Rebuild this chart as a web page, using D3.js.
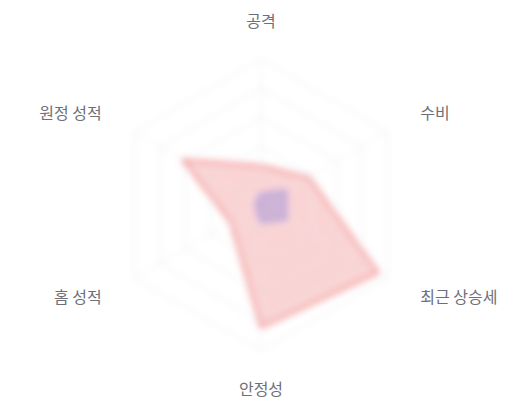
<!DOCTYPE html>
<html>
<head>
<meta charset="utf-8">
<script src="https://cdn.jsdelivr.net/npm/d3@7"></script>
<style>
  html, body { margin: 0; padding: 0; background: #fff; }
  #chart { width: 520px; height: 400px; }
</style>
</head>
<body>
<div id="chart"></div>
<script>
// axis names, clockwise from the top
const indicators = ["공격", "수비", "최근 상승세", "안정성", "홈 성적", "원정 성적"];
const maxValue = 100;

// series values (0-100)
const teamA = [27, 38, 93, 84, 24, 62];
const teamB = [8, 20, 20, 12, 4, 4];

const seriesColors = ["#ee6666", "#8c84dc"];

const width = 520, height = 400;
const center = {x: 261, y: 205};
const radius = 146;
const splitNumber = 5;
const nameGap = 38;

const svg = d3.select("#chart").append("svg")
    .attr("width", width)
    .attr("height", height);

// soft blur on the plot, the axis names stay sharp
const defs = svg.append("defs");
defs.append("filter")
    .attr("id", "soft")
    .attr("x", "-20%").attr("y", "-20%")
    .attr("width", "140%").attr("height", "140%")
    .append("feGaussianBlur")
    .attr("stdDeviation", 3.5);

const rScale = d3.scaleLinear().domain([0, maxValue]).range([0, radius]);
const angle = d3.scalePoint().domain(indicators.concat("__end")).range([0, 2 * Math.PI]);

const plot = svg.append("g")
    .attr("transform", `translate(${center.x},${center.y})`)
    .attr("filter", "url(#soft)");

// split lines
const levels = d3.range(splitNumber, 0, -1).map(i => maxValue * i / splitNumber);
const ringLine = d3.lineRadial()
    .angle(d => angle(d.name))
    .radius(d => rScale(d.value))
    .curve(d3.curveLinearClosed);

plot.selectAll(".ring")
    .data(levels)
    .join("path")
    .attr("class", "ring")
    .attr("d", lv => ringLine(indicators.map(name => ({name, value: lv}))))
    .attr("fill", "none")
    .attr("stroke", "#e6e8ee")
    .attr("stroke-width", 1);

// axis lines
plot.selectAll(".axisLine")
    .data(indicators)
    .join("line")
    .attr("class", "axisLine")
    .attr("x1", 0).attr("y1", 0)
    .attr("x2", d => rScale(maxValue) * Math.sin(angle(d)))
    .attr("y2", d => -rScale(maxValue) * Math.cos(angle(d)))
    .attr("stroke", "#eceef2");

// series polygons
const seriesData = [teamA, teamB];
plot.selectAll(".series")
    .data(seriesData)
    .join("path")
    .attr("class", "series")
    .attr("d", vals => ringLine(indicators.map((name, i) => ({name, value: vals[i]}))))
    .attr("fill", (d, i) => seriesColors[i])
    .attr("fill-opacity", (d, i) => i === 0 ? 0.28 : 0.4)
    .attr("stroke", (d, i) => seriesColors[i])
    .attr("stroke-opacity", (d, i) => i === 0 ? 0.6 : 0.4)
    .attr("stroke-width", 3)
    .attr("stroke-linejoin", "round");

// axis names
const labels = svg.append("g")
    .attr("transform", `translate(${center.x},${center.y})`);

labels.selectAll("text")
    .data(indicators)
    .join("text")
    .attr("x", d => (radius + nameGap) * Math.sin(angle(d)))
    .attr("y", d => -(radius + nameGap) * Math.cos(angle(d)))
    .attr("dy", "0.35em")
    .attr("text-anchor", d => {
        const s = Math.sin(angle(d));
        return Math.abs(s) < 0.01 ? "middle" : (s > 0 ? "start" : "end");
    })
    .attr("font-family", "'Noto Sans CJK KR', 'Noto Sans', sans-serif")
    .attr("font-size", 16)
    .attr("fill", "#6e7079")
    .text(d => d);
</script>
</body>
</html>
